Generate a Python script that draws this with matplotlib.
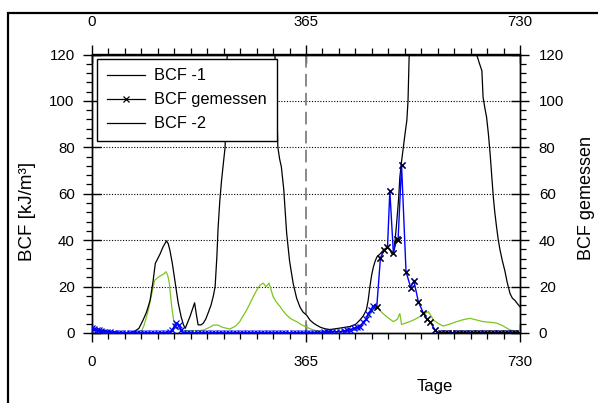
import numpy as np
import matplotlib
matplotlib.use("Agg")
import matplotlib.pyplot as plt
from matplotlib.lines import Line2D
from matplotlib.patches import Rectangle
from matplotlib.ticker import FixedLocator, MultipleLocator

plt.rcParams['font.family'] = ['Liberation Sans', 'DejaVu Sans']
plt.rcParams['font.size'] = 10.8

# ---------------- data ----------------
bcf1_days = [0, 10, 20, 30, 45, 60, 70, 80, 87, 93, 99, 104, 108, 112, 116, 121, 127, 130, 133, 137,
             142, 147, 152, 156, 159, 163, 167, 171, 175, 178, 181, 186, 190, 194, 198, 203, 207, 210,
             213, 215, 218, 221, 224, 227, 229, 231, 236, 250, 270, 290, 305, 312, 315, 317, 320, 323,
             327, 332, 337, 343, 349, 355, 360, 366, 372, 378, 383, 390, 398, 406, 420, 440, 450, 457,
             463, 468, 471, 474, 477, 480, 483, 486, 491, 497, 501, 505, 508, 511, 514, 517, 520, 523,
             525, 528, 531, 534, 537, 539, 541, 543, 560, 600, 640, 656, 661, 665, 667, 670, 673, 676,
             679, 682, 684.5, 687, 690, 693, 696, 700, 704, 708, 713, 717, 721.5, 726, 730]
bcf1_vals = [2.0, 1.5, 1.0, 0.6, 0.3, 0.2, 0.3, 2.0, 5.5, 9, 14, 22, 30, 32, 34, 37, 39.7, 38.5, 35.5, 30,
             21.5, 13, 7, 3.5, 2.0, 4.5, 7, 10, 13, 8, 3.5, 3.5, 4.3, 6, 8.6, 12, 16, 20,
             33, 45, 57, 65.8, 73, 80, 100, 125, 150, 190, 200, 180, 140, 120, 98, 80, 75, 71.5,
             62, 43, 31, 21.5, 15, 11, 9, 7.7, 5.5, 4.2, 3.4, 2.4, 1.8, 1.5, 2.0, 2.8, 3.8, 5.6,
             7.5, 10, 14, 20, 25, 28.5, 31, 32.8, 34, 35.7, 36.5, 37, 36, 34.3, 35, 40, 48.6, 58,
             67, 74, 80, 86, 91.6, 100, 120, 150, 200, 230, 200, 120, 116, 113, 101.6, 97, 93, 86,
             77.4, 67, 58.6, 52, 45.7, 40, 35.7, 31, 27, 22, 17, 15, 14, 12.5, 11.3]

bcf2_days = [0, 20, 40, 60, 75, 85, 89, 93, 97, 102, 107, 113, 119, 123, 126, 129, 132, 134, 136, 139,
             142, 146, 150, 160, 175, 190, 201, 207, 215, 222, 235, 245, 252, 258, 264, 270, 275, 281,
             286.5, 292, 297, 302, 305, 309, 314, 321, 326, 332, 340, 349, 357, 366, 375, 383, 400,
             420, 440, 452, 463, 470, 476, 481, 485.6, 490, 496, 502.6, 508, 514, 518, 521, 525, 528,
             535, 542, 550, 559, 566, 573.6, 578, 582, 590, 599, 610, 622, 634, 645, 656, 667, 680,
             690, 700, 713, 722, 730]
bcf2_vals = [1.0, 0.5, 0.2, 0.2, 0.4, 1.0, 3.5, 7, 11, 17, 22.8, 24, 25, 25.5, 26.4, 25, 21.4, 16, 11.3, 6,
             2.7, 1.5, 1.3, 1.0, 1.0, 1.2, 2.5, 3.4, 3.4, 2.5, 1.7, 3.0, 4.9, 7.5, 10, 13, 15.6, 18.5,
             20.6, 21.5, 20, 21.5, 19, 15.6, 13.5, 11.3, 9.5, 7.7, 6, 4.9, 3.6, 2.5, 1.5, 1.0, 0.6,
             0.6, 0.8, 1.5, 4.0, 6.5, 8.5, 10.5, 11.3, 10, 8.5, 7, 6, 4.9, 5.5, 6, 8.4, 3.7,
             4.3, 4.9, 5.8, 7, 8.2, 9.2, 7.5, 5.6, 4.2, 3.0, 3.8, 4.9, 5.8, 6.3, 5.6, 4.9, 4.6,
             4.3, 3.2, 1.3, 0.8, 0.5]

meas_days = [0, 4, 8, 12, 16, 21, 25, 30, 35, 40, 46, 52, 58, 64, 70, 76, 82, 88, 94, 100, 106, 112,
             118, 124, 129, 133, 137, 141, 144, 148, 152, 156, 162, 168, 174, 180, 186, 192, 198, 204,
             210, 216, 222, 228, 234, 240, 246, 252, 258, 264, 270, 276, 282, 288, 294, 300, 306, 312,
             318, 324, 330, 336, 342, 348, 354, 360, 366, 372, 378, 384, 389, 395, 400, 405, 410, 416,
             423, 430, 435, 440, 447, 452, 457, 463, 468, 471, 476, 479, 485.6, 492, 498.6, 504, 508,
             514, 520, 522, 528, 535.6, 543.6, 549, 556.6, 565, 571, 576.5, 585, 590.7, 596, 602, 608,
             614, 620, 626, 632, 638, 644, 650, 656, 662, 668, 674, 680, 686, 692, 698, 704, 710, 716,
             722, 728]
meas_vals = [2.0, 1.8, 1.4, 1.1, 0.8, 0.6, 0.5, 0.3, 0.2, 0.1, 0.1, 0.1, 0.0, 0.0, 0.1, 0.1, 0.0, 0.0,
             0.1, 0.1, 0.0, 0.0, 0.1, 0.1, 0.2, 0.3, 1.5, 3.2, 4.2, 3.5, 1.5, 0.2, 0.1, 0.1, 0.0, 0.0,
             0.1, 0.1, 0.0, 0.0, 0.1, 0.1, 0.0, 0.0, 0.1, 0.1, 0.0, 0.0, 0.1, 0.1, 0.0, 0.0, 0.1, 0.1,
             0.0, 0.0, 0.1, 0.1, 0.0, 0.0, 0.1, 0.1, 0.0, 0.1, 0.1, 0.1, 0.2, 0.2, 0.2, 0.2, 0.2, 0.3,
             0.3, 0.3, 0.4, 0.5, 0.6, 0.9, 1.2, 1.5, 2.0, 2.4, 2.7, 4.9, 6.0, 8.4, 10, 11.6, 11, 32.5,
             35.7, 36.9, 61.2, 34.5, 40.6, 40, 72.3, 26.4, 19.6, 22.5, 13.5, 8.7, 5.9, 4.9, 1.3, 0.0,
             0.0, 0.0, 0.0, 0.0, 0.0, 0.0, 0.0, 0.0, 0.0, 0.0, 0.0, 0.0, 0.0, 0.0, 0.0, 0.0, 0.0, 0.0,
             0.0, 0.0, 0.0, 0.0, 0.0]

x_major = [0, 365, 730]
y_major = [0, 20, 40, 60, 80, 100, 120]
legend_labels = ["BCF -1", "BCF gemessen", "BCF -2"]

# ---------------- figure ----------------
W, H = 598, 403
fig = plt.figure(figsize=(W / 100, H / 100), dpi=100)
ax = fig.add_axes([92 / W, 1 - 333 / H, (520 - 92) / W, (333 - 54.5) / H])

# outer frame (cut off at right and bottom)
fig.patches.append(Rectangle((8 / W, -0.1), 1.2, 1 - 13 / H + 0.1, transform=fig.transFigure,
                             fill=False, edgecolor='black', linewidth=1.6, zorder=0))

green = '#7cc51f'
ax.plot(bcf2_days, bcf2_vals, color=green, lw=0.9, zorder=3)
ax.plot(bcf1_days, bcf1_vals, color='black', lw=0.9, zorder=4)

for y in y_major[1:-1]:
    ax.axhline(y, color='black', lw=0.8, linestyle=(0, (1, 1.5)), zorder=1)
ax.axvline(365, color='#808080', lw=1.3, linestyle=(0, (7, 3.5)), zorder=2)

ax.set_xlim(0, 730)
ax.set_ylim(0, 120)

ax2 = ax.twinx()
ax2.set_ylim(0, 120)
md = np.array(meas_days)
mv = np.array(meas_vals)
ax2.plot(md, mv, color='#0000ff', lw=1.0, marker='x', ms=4.5, mew=0.9, mec='#0000ff', zorder=5)
late = md >= 484
ax2.plot(md[late], mv[late], linestyle='none', marker='x', ms=4.5, mew=0.9, mec='black', zorder=6)

# ticks
minor_x = np.linspace(0, 730, 27)
for a in (ax, ax2):
    for s in a.spines.values():
        s.set_linewidth(1.0)
ax.xaxis.set_major_locator(FixedLocator(x_major))
ax.xaxis.set_minor_locator(FixedLocator(minor_x))
ax.set_xticklabels([str(v) for v in x_major])
ax.yaxis.set_major_locator(FixedLocator(y_major))
ax.yaxis.set_minor_locator(MultipleLocator(4))
ax2.yaxis.set_major_locator(FixedLocator(y_major))
ax2.yaxis.set_minor_locator(MultipleLocator(4))

ax.tick_params(axis='x', which='major', direction='inout', length=13, width=1.0, pad=9)
ax.tick_params(axis='x', which='minor', direction='out', length=4.5, width=0.9)
ax.tick_params(axis='y', which='major', direction='inout', length=13, width=1.0, pad=6)
ax.tick_params(axis='y', which='minor', direction='out', length=4.5, width=0.9)
ax2.tick_params(axis='y', which='major', direction='inout', length=13, width=1.0, pad=7)
ax2.tick_params(axis='y', which='minor', direction='out', length=4.5, width=0.9)

top = ax.secondary_xaxis('top')
top.xaxis.set_major_locator(FixedLocator(x_major))
top.xaxis.set_minor_locator(FixedLocator(minor_x))
top.set_xticklabels([str(v) for v in x_major])
top.tick_params(axis='x', which='major', direction='inout', length=13, width=1.0, pad=12)
top.tick_params(axis='x', which='minor', direction='out', length=4.5, width=0.9)
top.spines['top'].set_linewidth(1.0)

ax.set_ylabel("BCF [kJ/m³]", fontsize=13.5)
ax.yaxis.set_label_coords(-0.131, 0.436)
ax2.set_ylabel("BCF gemessen", fontsize=13)
ax2.yaxis.set_label_coords(1.135, 0.483)
fig.text(435 / W, 1 - 387 / H, "Tage", ha='center', va='center', fontsize=12)

handles = [Line2D([], [], color='black', lw=0.9),
           Line2D([], [], color='black', lw=0.9, marker='x', ms=4.5, mew=0.9),
           Line2D([], [], color='black', lw=0.9)]
leg = ax2.legend(handles, legend_labels, loc='upper left', bbox_to_anchor=(5 / 428, 1 - 4 / 278.5),
                 fancybox=False, framealpha=1, edgecolor='black', handlelength=2.3,
                 handletextpad=0.6, borderpad=0.6, labelspacing=0.55, fontsize=11.8,
                 borderaxespad=0)
leg.get_frame().set_linewidth(1.0)
leg.set_zorder(10)

fig.savefig("out.png", dpi=100)
